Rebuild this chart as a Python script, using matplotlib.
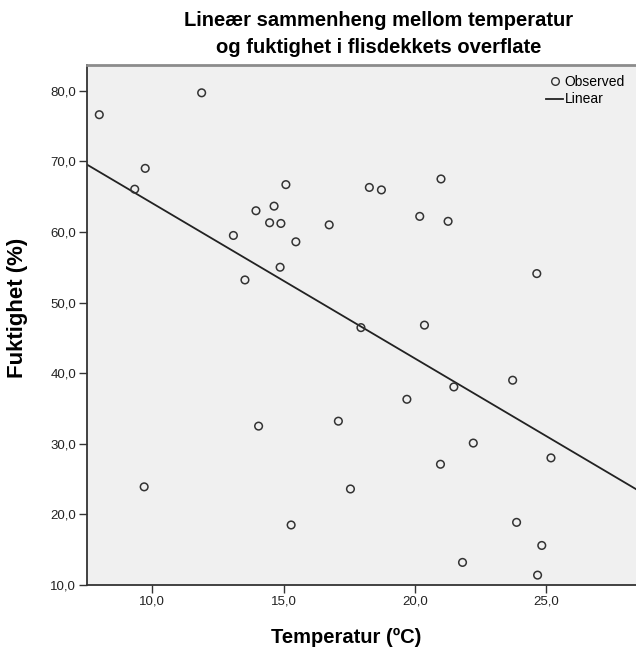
import numpy as np
import matplotlib
matplotlib.use("Agg")
import matplotlib.pyplot as plt
from matplotlib.lines import Line2D

plt.rcParams['font.family'] = ['Liberation Sans', 'DejaVu Sans']

# temperatur (C) og fuktighet (%) lest av figuren
temp = [7.98, 11.88, 9.73, 9.33, 13.09, 13.95, 13.53, 9.69, 14.05,
        15.09, 14.64, 14.47, 14.90, 15.47, 16.74, 14.87, 18.27, 18.73,
        21.00, 20.19, 21.27, 17.95, 20.37, 15.29, 17.09, 17.55, 19.70,
        20.98, 21.49, 23.73, 22.23, 25.19, 23.88, 24.84, 21.82, 24.68, 24.65]
fukt = [76.6, 79.7, 69.0, 66.05, 59.5, 63.0, 53.2, 23.9, 32.5,
        66.7, 63.65, 61.3, 61.2, 58.6, 61.0, 55.0, 66.3, 65.95,
        67.5, 62.2, 61.5, 46.45, 46.8, 18.5, 33.2, 23.6, 36.3,
        27.1, 38.05, 39.0, 30.1, 28.0, 18.87, 15.6, 13.2, 11.4, 54.1]

xticks = [10, 15, 20, 25]
yticks = [10, 20, 30, 40, 50, 60, 70, 80]
xlim = (7.5, 28.43)
ylim = (10, 83.68)

def comma(v):
    return f"{v:.1f}".replace(".", ",")

W, H = 636, 649
fig = plt.figure(figsize=(W / 100, H / 100), dpi=100)
ax = fig.add_axes([0.1363, 0.0986, 0.8637, 0.8017])
ax.set_facecolor('#f0f0f0')

# lineær tilpasning
slope, icpt = np.polyfit(temp, fukt, 1)
xx = np.array(xlim)
ax.plot(xx, icpt + slope * xx, color='#222222', lw=1.3, zorder=2)
ax.scatter(temp, fukt, s=30, facecolors='none', edgecolors='#333333',
           linewidths=1.1, zorder=3)

ax.set_xlim(*xlim)
ax.set_ylim(*ylim)
ax.set_xticks(xticks)
ax.set_xticklabels([comma(v) for v in xticks])
ax.set_yticks(yticks)
ax.set_yticklabels([comma(v) for v in yticks])
ax.tick_params(direction='out', length=6, width=1, colors='#333333',
               labelsize=9.5, labelcolor='#222222', pad=1.5)

for side in ['left', 'bottom']:
    ax.spines[side].set_color('#333333')
    ax.spines[side].set_linewidth(1.3)
ax.spines['top'].set_color('#8c8c8c')
ax.spines['top'].set_linewidth(2)
ax.spines['right'].set_visible(False)

fig.text(346 / W, 1 - 643 / H, 'Temperatur (ºC)', fontsize=14.5,
         fontweight='bold', ha='center', va='baseline')
fig.text(17.5 / W, 1 - 378 / H, 'Fuktighet (%)', fontsize=16,
         fontweight='bold', ha='center', va='bottom', rotation=90)
fig.text(379 / W, 1 - 26 / H, 'Lineær sammenheng mellom temperatur',
         fontsize=14.5, fontweight='bold', ha='center', va='baseline')
fig.text(379 / W, 1 - 53 / H, 'og fuktighet i flisdekkets overflate',
         fontsize=14.5, fontweight='bold', ha='center', va='baseline')

handles = [Line2D([], [], marker='o', ls='none', mfc='none', mec='#333333',
                  ms=5.5, mew=1),
           Line2D([], [], color='#222222', lw=1.3)]
fig.legend(handles, ['Observed', 'Linear'], loc='upper left', frameon=False,
           fontsize=10, handlelength=1.25, handletextpad=0.1, borderpad=0,
           borderaxespad=0, labelspacing=0.25,
           bbox_to_anchor=(546 / W, 1 - 75 / H))

fig.savefig('out.png', dpi=100)
